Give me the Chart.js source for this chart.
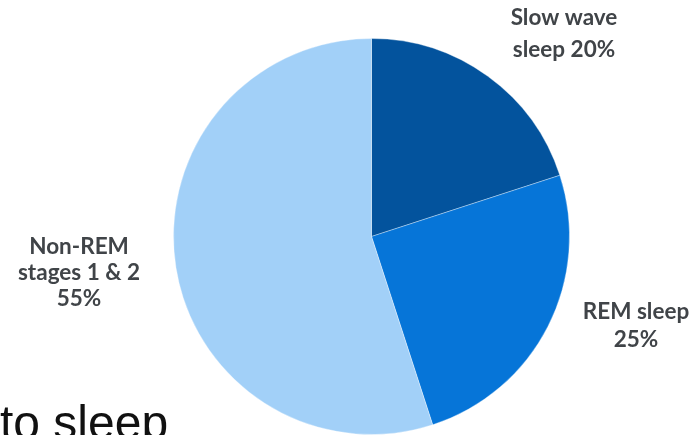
<!DOCTYPE html>
<html>
<head>
<meta charset="utf-8">
<script src="https://cdn.jsdelivr.net/npm/chart.js@4"></script>
<style>
  html, body { margin: 0; padding: 0; background: #fff; }
  #wrap { position: relative; width: 696px; height: 435px; overflow: hidden; }
  #chart { position: absolute; left: 0; top: 0; }
  #caption {
    position: absolute; left: 0px; top: 399px;
    font-family: "Liberation Sans", Arial, sans-serif; font-size: 48px;
    color: #111; line-height: 1; white-space: nowrap;
  }
</style>
</head>
<body>
<div id="wrap">
  <canvas id="chart" width="696" height="435"></canvas>
  <div id="caption">to sleep</div>
</div>
<script>
// datos del gráfico
const etapas = ["Slow wave sleep", "REM sleep", "Non-REM stages 1 & 2"];
const porcentajes = [20, 25, 55];
const etiquetas = [
    ["Slow wave", "sleep 20%"],
    ["REM sleep", "25%"],
    ["Non-REM", "stages 1 & 2", "55%"]
];
const colores = ["#03539d", "#0675d8", "#a2d0f8"];

// posiciones de las etiquetas (centro del bloque de texto)
const posEtiquetas = [
    { x: 564, y: 34, alto: 32 },
    { x: 636, y: 326, alto: 28 },
    { x: 79, y: 273, alto: 26 }
];

const pluginEtiquetas = {
    id: 'etiquetas',
    afterDraw(chart) {
        const ctx = chart.ctx;
        ctx.save();
        ctx.font = 'bold 22.5px Lato, "Open Sans", sans-serif';
        ctx.fillStyle = '#404448';
        ctx.textAlign = 'center';
        ctx.textBaseline = 'middle';
        etiquetas.forEach((lineas, i) => {
            const p = posEtiquetas[i];
            const y0 = p.y - (lineas.length - 1) * p.alto / 2;
            lineas.forEach((t, j) => ctx.fillText(t, p.x, y0 + j * p.alto));
        });
        ctx.restore();
    }
};

new Chart(document.getElementById('chart'), {
    type: 'pie',
    data: {
        labels: etapas,
        datasets: [{
            data: porcentajes,
            backgroundColor: colores,
            borderColor: 'rgba(255,255,255,0.35)',
            borderWidth: 1
        }]
    },
    options: {
        responsive: false,
        animation: false,
        layout: { padding: { top: 38, bottom: 0, left: 100, right: 53 } },
        plugins: {
            legend: { display: false },
            tooltip: { enabled: false }
        }
    },
    plugins: [pluginEtiquetas]
});
</script>
</body>
</html>
